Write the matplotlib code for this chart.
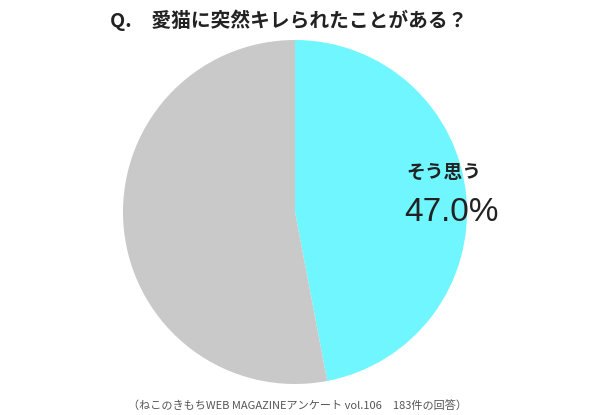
import matplotlib
matplotlib.use("Agg")
import matplotlib.pyplot as plt

plt.rcParams["font.family"] = ["Noto Sans CJK JP", "DejaVu Sans"]

# 데이터
labels = ["そう思う", "思わない"]
values = [47.0, 53.0]
colors = ["#6ff6ff", "#c9c9c9"]

fig = plt.figure(figsize=(6, 4.15), dpi=100)
ax = fig.add_axes([123 / 600, 31 / 415, 344 / 600, 344 / 415])

ax.pie(
    values,
    colors=colors,
    startangle=90,
    counterclock=False,
    radius=1.0,
)
ax.set_xlim(-1, 1)
ax.set_ylim(-1, 1)
ax.set_aspect("equal")
ax.axis("off")

ax.text(0.866, 0.23, labels[0], fontsize=13.5, fontweight="bold", color="#222222",
        ha="center", va="center")
ax.text(0.91, 0.0, "%.1f%%" % values[0], fontsize=24, color="#222222",
        ha="center", va="center", family=["Liberation Sans"])

fig.text(110 / 600, 1 - 20 / 415, "Q.　愛猫に突然キレられたことがある？",
         fontsize=14.2, fontweight="bold", color="#222222", ha="left", va="center")
fig.text(128 / 600, 1 - 405 / 415,
         "（ねこのきもちWEB MAGAZINEアンケート vol.106　183件の回答）",
         fontsize=8, color="#555555", ha="left", va="center")

fig.savefig("out.png", dpi=100)
